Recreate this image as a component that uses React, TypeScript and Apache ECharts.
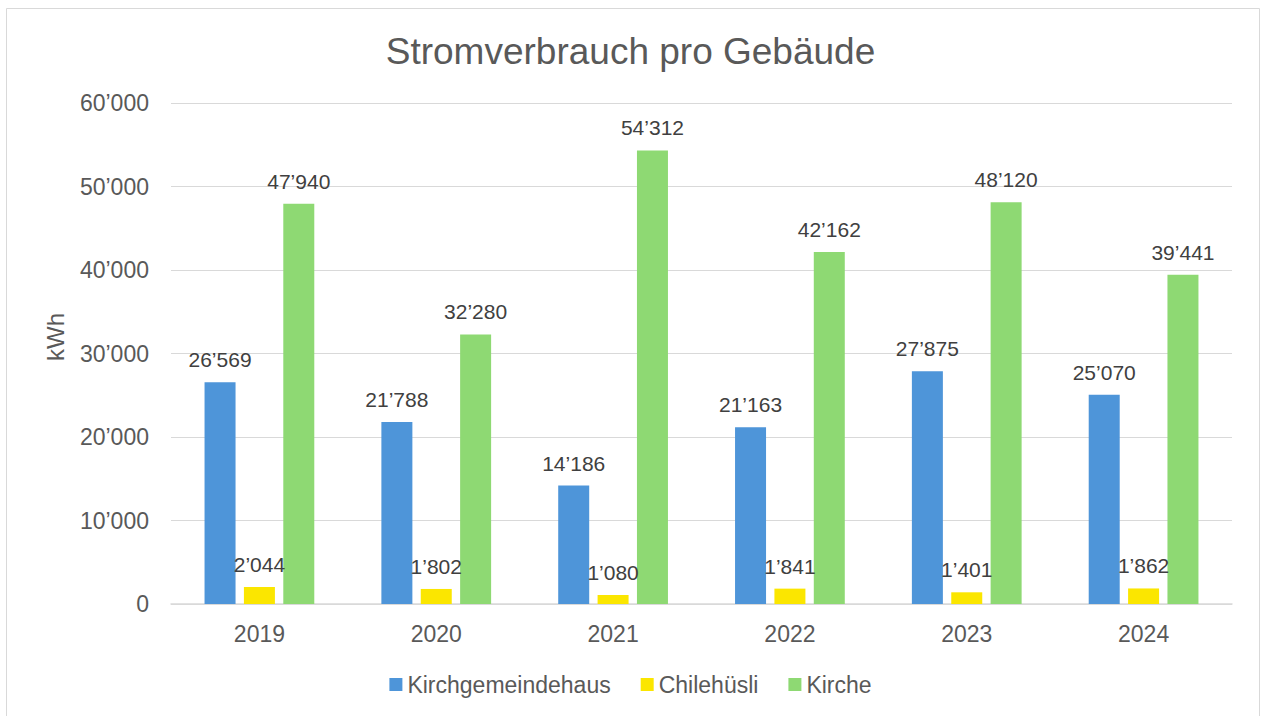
import React, { useEffect, useRef } from "react";
import * as echarts from "echarts";

const categories = ["2019", "2020", "2021", "2022", "2023", "2024"];
const seriesNames = ["Kirchgemeindehaus", "Chilehüsli", "Kirche"];
const kirchgemeindehaus = [26569, 21788, 14186, 21163, 27875, 25070];
const chilehuesli = [2044, 1802, 1080, 1841, 1401, 1862];
const kirche = [47940, 32280, 54312, 42162, 48120, 39441];
const seriesColors = ["#4E95D9", "#FBE600", "#8ED973"];
const titleText = "Stromverbrauch pro Gebäude";
const yAxisTitle = "kWh";

const FONT = "'Liberation Sans', Arial, sans-serif";

function fmt(v: number): string {
  return String(Math.round(v)).replace(/\B(?=(\d{3})+(?!\d))/g, "\u2019");
}

export default function App() {
  const ref = useRef<HTMLDivElement>(null);

  useEffect(() => {
    document.body.style.margin = "0";
    if (!ref.current) return;
    const chart = echarts.init(ref.current, undefined, { renderer: "svg" });
    const dataSets = [kirchgemeindehaus, chilehuesli, kirche];
    chart.setOption({
      animation: false,
      backgroundColor: "#ffffff",
      textStyle: { fontFamily: FONT },
      title: {
        text: titleText,
        left: "center",
        top: 28,
        textStyle: {
          fontFamily: FONT,
          fontSize: 37,
          fontWeight: "normal",
          color: "#595959",
        },
      },
      legend: {
        bottom: 15,
        left: "center",
        itemWidth: 13,
        itemHeight: 13,
        itemGap: 30,
        icon: "rect",
        textStyle: { fontFamily: FONT, fontSize: 23, color: "#595959" },
        data: seriesNames,
      },
      grid: { left: 171, right: 29, top: 103, bottom: 112, containLabel: false },
      xAxis: {
        type: "category",
        data: categories,
        axisTick: { show: false },
        axisLine: { lineStyle: { color: "#d9d9d9", width: 1.5 } },
        axisLabel: { fontFamily: FONT, fontSize: 23, color: "#595959", margin: 18 },
      },
      yAxis: {
        type: "value",
        min: 0,
        max: 60000,
        interval: 10000,
        axisLine: { show: false },
        axisTick: { show: false },
        splitLine: { lineStyle: { color: "#d9d9d9", width: 1 } },
        axisLabel: {
          fontFamily: FONT,
          fontSize: 23,
          color: "#595959",
          margin: 22,
          formatter: (v: number) => fmt(v),
        },
      },
      graphic: [
        {
          type: "rect",
          shape: { x: 6.5, y: 8.5, width: 1253, height: 720 },
          style: { fill: "none", stroke: "#d9d9d9", lineWidth: 1 },
          silent: true,
        },
        {
          type: "text",
          x: 55,
          y: 337,
          rotation: Math.PI / 2,
          style: {
            text: yAxisTitle,
            fontFamily: FONT,
            fontSize: 24,
            fill: "#595959",
            textAlign: "center",
            textVerticalAlign: "middle",
          },
        },
      ],
      series: seriesNames.map((name, i) => ({
        name,
        type: "bar",
        data: dataSets[i],
        barWidth: 31,
        barGap: "27%",
        itemStyle: { color: seriesColors[i] },
        label: {
          show: true,
          position: "top",
          distance: 12,
          fontFamily: FONT,
          fontSize: 21,
          color: "#404040",
          formatter: (p: any) => fmt(p.value),
        },
      })),
    });
    return () => chart.dispose();
  }, []);

  return <div ref={ref} style={{ width: 1261, height: 716 }} />;
}
